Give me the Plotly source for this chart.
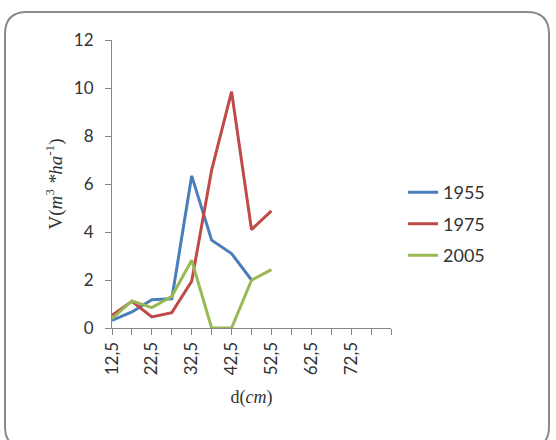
import plotly.graph_objects as go

d = [12.5, 17.5, 22.5, 27.5, 32.5, 37.5, 42.5, 47.5, 52.5]
v1955 = [0.32, 0.67, 1.18, 1.22, 6.34, 3.66, 3.10, 2.00]
v1975 = [0.53, 1.11, 0.46, 0.64, 1.95, 6.58, 9.85, 4.10, 4.88]
v2005 = [0.39, 1.13, 0.85, 1.32, 2.82, 0.0, 0.0, 1.99, 2.43]
x_ticks = [12.5 + 5 * i for i in range(15)]
x_ticklabels = [f"{t:.1f}".replace(".", ",") if i % 2 == 0 and t <= 72.5 else "" for i, t in enumerate(x_ticks)]

series = [("1955", v1955, "#4a7ebb"), ("1975", v1975, "#be4b48"), ("2005", v2005, "#98b954")]

fig = go.Figure()
for name, vals, col in series:
    fig.add_trace(go.Scatter(x=d[:len(vals)], y=vals, mode="lines", name=name, legendgroup=name,
                             line=dict(color=col, width=3)))

W, H = 556, 440
L, R, T, B = 112, 391, 40, 327.7
def px(x): return (x - L) / (R - L)
def py(y): return (B - y) / (B - T)

x0, x1, y0, y1 = 5, 549, 12, 448
r = 22
path = (f"M {px(x0+r)},{py(y0)} L {px(x1-r)},{py(y0)} Q {px(x1)},{py(y0)} {px(x1)},{py(y0+r)} "
        f"L {px(x1)},{py(y1-r)} Q {px(x1)},{py(y1)} {px(x1-r)},{py(y1)} "
        f"L {px(x0+r)},{py(y1)} Q {px(x0)},{py(y1)} {px(x0)},{py(y1-r)} "
        f"L {px(x0)},{py(y0+r)} Q {px(x0)},{py(y0)} {px(x0+r)},{py(y0)} Z")

serif = "Liberation Serif, serif"
fig.update_layout(
    width=W, height=H,
    margin=dict(l=L, r=W - R, t=T, b=H - B),
    paper_bgcolor="white", plot_bgcolor="white",
    font=dict(family="Lato, Liberation Sans, sans-serif", size=17, color="#333333"),
    shapes=[dict(type="path", xref="paper", yref="paper", path=path,
                 line=dict(color="#8a8a8a", width=2), layer="below")],
    xaxis=dict(range=[12.5, 82.5], tickmode="array", tickvals=x_ticks, ticktext=x_ticklabels,
               tickangle=-90, ticks="outside", ticklen=6, tickcolor="#868686",
               showline=True, linecolor="#868686", linewidth=1, showgrid=False, zeroline=False,
               title=dict(text="d(<i>cm</i>)", font=dict(size=18, family=serif), standoff=16)),
    yaxis=dict(range=[0, 12], tickvals=[0, 2, 4, 6, 8, 10, 12], ticks="outside", ticklen=6,
               tickcolor="#868686", showline=True, linecolor="#868686", linewidth=1,
               ticklabelstandoff=8,
               showgrid=False, zeroline=False,
               title=dict(text="V(<i>m</i><sup>3</sup> <i>*ha</i><sup>-1</sup>)",
                          font=dict(size=19, family=serif), standoff=6)),
    legend=dict(x=px(403), y=py(174), xanchor="left", yanchor="top", tracegroupgap=5,
                traceorder="grouped", font=dict(size=18), bgcolor="rgba(0,0,0,0)"),
)

fig.write_html("out.html", post_script="document.body.style.margin='0';",
               config={"displayModeBar": False})
